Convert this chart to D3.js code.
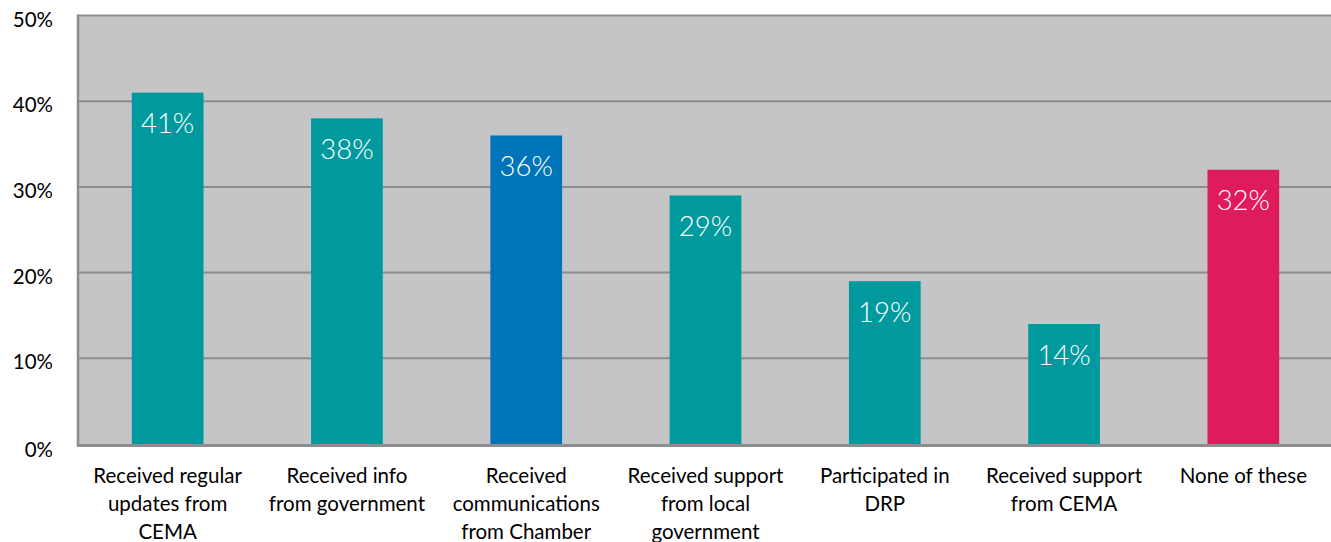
<!DOCTYPE html>
<html>
<head>
<meta charset="utf-8">
<script src="https://cdn.jsdelivr.net/npm/d3@7"></script>
<style>
  html, body { margin: 0; padding: 0; background: #ffffff; }
  svg { display: block; font-family: Lato, "Open Sans", sans-serif; font-weight: 300; }
</style>
</head>
<body>
<svg id="chart" width="1331" height="542"></svg>
<script>
// Share of respondents by type of support received
const categories = [
  "Received regular updates from CEMA",
  "Received info from government",
  "Received communications from Chamber",
  "Received support from local government",
  "Participated in DRP",
  "Received support from CEMA",
  "None of these"
];
const labelLines = [
  ["Received regular", "updates from", "CEMA"],
  ["Received info", "from government"],
  ["Received", "communications", "from Chamber"],
  ["Received support", "from local", "government"],
  ["Participated in", "DRP"],
  ["Received support", "from CEMA"],
  ["None of these"]
];
const values = [41, 38, 36, 29, 19, 14, 32];
const barColors = ["#009a9e", "#009a9e", "#0074b9", "#009a9e", "#009a9e", "#009a9e", "#e01b5b"];
const yTicks = [0, 10, 20, 30, 40, 50];

const svg = d3.select("#chart");
const margin = { left: 78, top: 15.5, bottom: 98 };
const W = 1331, H = 542;

// band range runs a little past the right edge of the canvas
const x = d3.scaleBand()
  .domain(categories)
  .range([margin.left, 1333])
  .paddingInner(0.6)
  .paddingOuter(0.3);

const y = d3.scaleLinear()
  .domain([0, 50])
  .range([H - margin.bottom, margin.top]);

// plot background
svg.append("rect")
  .attr("x", margin.left).attr("y", y(50))
  .attr("width", W - margin.left)
  .attr("height", y(0) - y(50))
  .attr("fill", "#c5c5c7");

// horizontal gridlines
svg.append("g")
  .selectAll("line")
  .data(yTicks.filter(d => d > 0))
  .join("line")
  .attr("x1", margin.left).attr("x2", W)
  .attr("y1", d => y(d)).attr("y2", d => y(d))
  .attr("stroke", "#8d8d8f").attr("stroke-width", 2);

// left border
svg.append("line")
  .attr("x1", margin.left).attr("x2", margin.left)
  .attr("y1", y(50) - 1).attr("y2", y(0) + 3)
  .attr("stroke", "#8d8d8f").attr("stroke-width", 2.5);

// bars
svg.append("g")
  .selectAll("rect")
  .data(values)
  .join("rect")
  .attr("x", (d, i) => x(categories[i]))
  .attr("y", d => y(d))
  .attr("width", x.bandwidth())
  .attr("height", d => y(0) - y(d))
  .attr("fill", (d, i) => barColors[i]);

// bottom axis line
svg.append("line")
  .attr("x1", margin.left - 1).attr("x2", W)
  .attr("y1", y(0) + 1.5).attr("y2", y(0) + 1.5)
  .attr("stroke", "#8d8d8f").attr("stroke-width", 3);

// value labels inside bars
svg.append("g")
  .selectAll("text")
  .data(values)
  .join("text")
  .attr("x", (d, i) => x(categories[i]) + x.bandwidth() / 2)
  .attr("y", d => y(d) + 40.5)
  .attr("text-anchor", "middle")
  .attr("fill", "#ffffff")
  .attr("font-size", 27.5)
  .text(d => d + "%");

// y axis tick labels
const yAxis = d3.axisLeft(y).tickValues(yTicks).tickFormat(d => d + "%").tickSize(0).tickPadding(0);
const gy = svg.append("g")
  .attr("transform", `translate(53,0)`)
  .call(yAxis);
gy.select(".domain").remove();
gy.selectAll("text")
  .attr("font-size", 20.5)
  .attr("font-family", "Lato, sans-serif")
  .attr("font-weight", 400)
  .attr("fill", "#000")
  .attr("dy", (d) => d === 0 ? "0.62em" : "0.52em");

// category labels
const gx = svg.append("g");
categories.forEach((c, i) => {
  const t = gx.append("text")
    .attr("x", x(c) + x.bandwidth() / 2)
    .attr("y", 483)
    .attr("text-anchor", "middle")
    .attr("font-size", 20.5)
    .attr("font-weight", 400)
    .attr("fill", "#000");
  labelLines[i].forEach((line, j) => {
    t.append("tspan")
      .attr("x", x(c) + x.bandwidth() / 2)
      .attr("dy", j === 0 ? 0 : 28)
      .text(line);
  });
});
</script>
</body>
</html>
